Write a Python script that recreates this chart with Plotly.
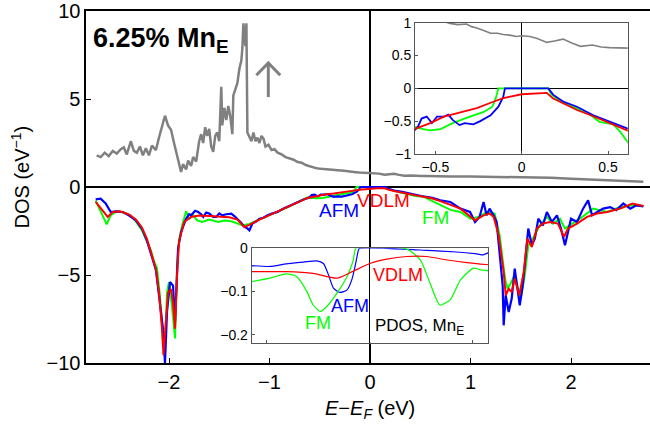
import plotly.graph_objects as go

# ---------------- data ----------------
# spin-up total DOS (gray)
up_x = [-2.72, -2.68, -2.64, -2.60, -2.56, -2.52, -2.48, -2.45, -2.42, -2.38, -2.35, -2.32, -2.29, -2.26,
        -2.23, -2.20, -2.17, -2.13, -2.10, -2.07, -2.04, -2.01, -1.98, -1.95, -1.92, -1.90, -1.88, -1.86,
        -1.83, -1.81, -1.78, -1.76, -1.73, -1.70, -1.68, -1.66, -1.64, -1.62, -1.60, -1.58, -1.56, -1.54,
        -1.52, -1.50, -1.48, -1.47, -1.45, -1.43, -1.41, -1.39, -1.37, -1.36, -1.34, -1.32, -1.30, -1.28,
        -1.27, -1.26, -1.24, -1.23, -1.22, -1.20, -1.18, -1.16, -1.14, -1.12, -1.10, -1.08, -1.06, -1.04,
        -1.01, -0.98, -0.95, -0.92, -0.88, -0.84, -0.80, -0.76, -0.72, -0.68, -0.64, -0.60, -0.57, -0.53,
        -0.49, -0.45, -0.415, -0.37, -0.32, -0.29, -0.26, -0.22, -0.18, -0.14, -0.107, -0.07, -0.03, 0.0,
        0.048, 0.09, 0.145, 0.19, 0.24, 0.29, 0.34, 0.41, 0.46, 0.51, 0.56, 0.62, 0.8, 1.0, 1.2, 1.4, 1.6,
        1.8, 2.0, 2.2, 2.4, 2.6, 2.72]
up_y = [1.80, 1.70, 1.95, 1.75, 2.05, 1.90, 2.15, 2.25, 1.85, 2.60, 2.05, 1.95, 2.30, 1.80,
        2.20, 1.80, 2.35, 2.10, 2.80, 3.40, 4.05, 3.50, 3.25, 2.50, 1.80, 1.20, 0.85, 1.30,
        1.00, 1.50, 1.20, 1.70, 1.45, 2.60, 3.00, 2.50, 3.40, 2.90, 3.30, 2.30, 2.00, 2.90,
        3.10, 2.60, 5.70, 3.50, 4.50, 3.80, 4.60, 4.00, 3.00, 5.20, 5.60, 5.90, 6.70, 7.20,
        7.90, 9.30, 8.00, 9.30, 3.10, 2.80, 2.60, 3.10, 2.60, 2.80, 2.50, 2.90, 2.75, 2.30,
        2.40, 2.10, 2.15, 1.95, 1.85, 1.70, 1.62, 1.55, 1.42, 1.38, 1.25, 1.18, 1.10, 1.06,
        1.03, 1.02, 0.99, 0.97, 0.98, 0.94, 0.92, 0.88, 0.84, 0.84, 0.82, 0.81, 0.79, 0.80,
        0.79, 0.76, 0.70, 0.72, 0.75, 0.69, 0.64, 0.66, 0.63, 0.62, 0.62, 0.61, 0.60, 0.60, 0.58, 0.58, 0.56,
        0.52, 0.47, 0.42, 0.37, 0.32, 0.30]

# spin-down total DOS, AFM (blue)
afm_x = [-2.73, -2.68, -2.63, -2.58, -2.53, -2.46, -2.40, -2.33, -2.27, -2.22, -2.17, -2.13, -2.10, -2.06,
         -2.04, -2.02, -1.99, -1.96, -1.94, -1.91, -1.88, -1.83, -1.80, -1.78, -1.74, -1.71, -1.68, -1.66,
         -1.63, -1.60, -1.56, -1.53, -1.50, -1.47, -1.43, -1.38, -1.35, -1.32, -1.28, -1.25, -1.22, -1.20,
         -1.17, -1.13, -1.10, -1.06, -1.02, -0.97, -0.92, -0.87, -0.83, -0.76, -0.70, -0.65, -0.62, -0.60,
         -0.58, -0.55, -0.52, -0.49, -0.45, -0.425, -0.40, -0.36, -0.33, -0.28, -0.24, -0.18, -0.135, -0.107,
         -0.097, 0.154, 0.183, 0.24, 0.32, 0.415, 0.51, 0.59, 0.62, 0.70, 0.80, 0.90, 0.995, 1.045, 1.09,
         1.13, 1.16, 1.19, 1.23, 1.26, 1.29, 1.32, 1.33, 1.35, 1.38, 1.41, 1.44, 1.47, 1.49, 1.52, 1.54,
         1.575, 1.61, 1.64, 1.675, 1.72, 1.76, 1.81, 1.86, 1.90, 1.94, 1.97, 2.00, 2.06, 2.12, 2.17, 2.21,
         2.26, 2.32, 2.39, 2.45, 2.52, 2.59, 2.65, 2.72]
afm_y = [-0.70, -0.66, -0.94, -1.42, -1.38, -1.42, -1.61, -1.89, -2.36, -3.03, -3.98, -4.73, -6.15, -8.05,
         -10.0, -7.10, -5.40, -5.60, -7.67, -3.50, -2.56, -1.80, -1.55, -1.61, -1.35, -1.42, -1.55, -1.70,
         -1.45, -1.51, -1.70, -1.70, -1.50, -1.61, -1.55, -1.51, -1.65, -1.80, -2.05, -2.27, -2.35, -2.46,
         -2.08, -1.95, -1.80, -1.75, -1.61, -1.50, -1.42, -1.25, -1.14, -0.94, -0.80, -0.68, -0.64, -0.58,
         -0.46, -0.43, -0.53, -0.43, -0.43, -0.40, -0.48, -0.56, -0.53, -0.55, -0.50, -0.41, -0.28, -0.13,
         0.0, 0.0, -0.10, -0.20, -0.28, -0.41, -0.51, -0.59, -0.62, -0.76, -0.85, -1.23, -1.42, -1.99, -1.70,
         -0.85, -1.61, -1.23, -1.61, -1.99, -3.69, -5.59, -7.86, -6.15, -7.10, -6.34, -4.64, -5.77, -6.72, -5.59, -4.26,
         -2.36, -3.31, -2.93, -1.80, -2.18, -1.42, -1.99, -1.61, -2.36, -3.31, -2.55, -1.80, -1.99, -1.23, -0.76, -1.61,
         -1.42, -1.23, -1.14, -1.32, -0.94, -1.23, -1.04, -1.10]

# spin-down total DOS, FM (green)
fm_x = [-2.73, -2.66, -2.62, -2.58, -2.52, -2.45, -2.38, -2.33, -2.27, -2.22, -2.18, -2.15, -2.12, -2.09,
        -2.06, -2.04, -2.02, -2.00, -1.97, -1.94, -1.92, -1.90, -1.87, -1.83, -1.80, -1.76, -1.72, -1.67,
        -1.60, -1.51, -1.45, -1.38, -1.27, -1.20, -1.10, -1.00, -0.90, -0.80, -0.70, -0.62, -0.57, -0.53,
        -0.47, -0.40, -0.30, -0.22, -0.17, -0.15, -0.135, 0.154, 0.17, 0.22, 0.32, 0.40, 0.45, 0.53, 0.57,
        0.62, 0.70, 0.80, 0.90, 1.00, 1.08, 1.16, 1.24, 1.29, 1.33, 1.35, 1.37, 1.39, 1.44, 1.50, 1.54,
        1.575, 1.62, 1.69, 1.76, 1.82, 1.89, 1.94, 1.99, 2.09, 2.22, 2.36, 2.49, 2.62, 2.72]
fm_y = [-0.77, -1.60, -2.12, -1.61, -1.38, -1.45, -1.62, -1.95, -2.45, -3.10, -3.60, -4.20, -4.60, -6.20,
        -8.80, -9.00, -6.00, -5.40, -6.80, -8.60, -4.50, -3.00, -2.20, -1.38, -1.80, -1.60, -1.90, -1.99,
        -1.85, -1.99, -1.90, -1.95, -2.17, -2.10, -1.85, -1.60, -1.35, -1.10, -0.80, -0.59, -0.62, -0.64,
        -0.62, -0.53, -0.43, -0.36, -0.28, -0.15, 0.0, 0.0, -0.09, -0.19, -0.31, -0.41, -0.51, -0.55, -0.66,
        -0.84, -1.04, -1.30, -1.42, -1.80, -1.70, -1.42, -1.51, -2.74, -4.60, -5.40, -5.78, -5.59, -5.00, -6.34, -5.00,
        -3.31, -2.93, -2.18, -1.70, -2.08, -1.80, -2.36, -2.17, -1.80, -1.23, -1.42, -1.14, -1.04, -1.08]

# spin-down total DOS, VDLM (red)
vdlm_x = [-2.73, -2.66, -2.61, -2.56, -2.49, -2.40, -2.33, -2.27, -2.22, -2.17, -2.13, -2.10, -2.07, -2.055,
          -2.03, -2.01, -1.98, -1.96, -1.94, -1.92, -1.90, -1.85, -1.78, -1.70, -1.60, -1.50, -1.40, -1.32,
          -1.25, -1.20, -1.10, -1.00, -0.90, -0.80, -0.70, -0.62, -0.53, -0.45, -0.36, -0.26, -0.18, -0.107,
          0.0, 0.07, 0.145, 0.18, 0.25, 0.32, 0.40, 0.47, 0.55, 0.62, 0.70, 0.90, 1.045, 1.13, 1.19, 1.23,
          1.28, 1.33, 1.35, 1.38, 1.41, 1.44, 1.485, 1.53, 1.565, 1.61, 1.66, 1.72, 1.79, 1.87, 1.93, 1.97,
          2.06, 2.16, 2.26, 2.36, 2.49, 2.61, 2.72]
vdlm_y = [-0.85, -1.32, -1.70, -1.42, -1.38, -1.55, -1.85, -2.30, -2.95, -3.90, -4.70, -6.00, -8.00, -9.56,
          -7.50, -6.00, -5.80, -6.60, -8.05, -5.00, -3.10, -1.99, -1.70, -1.62, -1.65, -1.68, -1.72, -1.85,
          -2.27, -2.15, -1.85, -1.60, -1.35, -1.10, -0.85, -0.62, -0.53, -0.43, -0.37, -0.30, -0.22, -0.15,
          -0.09, -0.075, -0.07, -0.15, -0.24, -0.33, -0.41, -0.49, -0.57, -0.65, -0.80, -1.23, -1.89, -1.61, -1.51, -1.70,
          -2.74, -4.83, -6.15, -5.78, -5.97, -5.21, -6.15, -4.83, -2.93, -3.41, -2.36, -2.08, -1.99, -2.08, -2.83, -2.36,
          -2.08, -1.70, -1.51, -1.42, -1.23, -0.94, -1.08]

# Mn_E partial DOS (spin down)
pdos_afm_x = [-1.146, -0.97, -0.81, -0.645, -0.515, -0.45, -0.40, -0.353, -0.29, -0.22, -0.175, -0.143,
              -0.11, -0.10, 0.165, 0.49, 0.81, 1.04, 1.10, 1.15]
pdos_afm_y = [-0.040, -0.042, -0.036, -0.032, -0.029, -0.035, -0.062, -0.092, -0.102, -0.096, -0.073, -0.042,
              -0.004, 0.0, 0.0, -0.004, -0.008, -0.013, -0.015, -0.010]
pdos_fm_x = [-1.146, -0.97, -0.81, -0.71, -0.61, -0.55, -0.48, -0.42, -0.32, -0.22, -0.16, -0.133,
             0.36, 0.49, 0.585, 0.68, 0.78, 0.88, 1.005, 1.08, 1.15]
pdos_fm_y = [-0.077, -0.069, -0.059, -0.065, -0.100, -0.131, -0.146, -0.135, -0.104, -0.065, -0.027, 0.0,
             -0.002, -0.027, -0.081, -0.131, -0.119, -0.073, -0.046, -0.050, -0.052]
pdos_vdlm_x = [-1.146, -0.81, -0.55, -0.32, -0.17, 0.0, 0.165, 0.36, 0.55, 0.75, 0.94, 1.15]
pdos_vdlm_y = [-0.054, -0.054, -0.058, -0.069, -0.054, -0.035, -0.025, -0.019, -0.019, -0.027, -0.033, -0.038]

main_ticks = [-2, -1, 0, 1, 2]
main_ticktext = ["\u22122", "\u22121", "0", "1", "2"]
main_yticks = [-10, -5, 0, 5, 10]
main_yticktext = ["\u221210", "\u22125", "0", "5", "10"]
zoom_xticks = [-0.5, 0, 0.5]
zoom_xticktext = ["\u22120.5", "0", "0.5"]
zoom_yticks = [-1, -0.5, 0, 0.5, 1]
zoom_yticktext = ["\u22121", "\u22120.5", "0", "0.5", "1"]
pdos_yticks = [-0.2, -0.1, 0]
pdos_yticktext = ["\u22120.2", "\u22120.1", "0"]

GRAY = "#808080"
BLUE = "#0000FF"
GREEN = "#00FF00"
RED = "#FF0000"
FONT = "Liberation Sans, Arial, sans-serif"

fig = go.Figure()
# main
fig.add_trace(go.Scatter(x=up_x, y=up_y, mode="lines", line=dict(color=GRAY, width=2.5), xaxis="x", yaxis="y"))
fig.add_trace(go.Scatter(x=fm_x, y=fm_y, mode="lines", line=dict(color=GREEN, width=2), xaxis="x", yaxis="y"))
fig.add_trace(go.Scatter(x=afm_x, y=afm_y, mode="lines", line=dict(color=BLUE, width=2.2), xaxis="x", yaxis="y"))
fig.add_trace(go.Scatter(x=vdlm_x, y=vdlm_y, mode="lines", line=dict(color=RED, width=2), xaxis="x", yaxis="y"))
# zoom inset (top right)
fig.add_trace(go.Scatter(x=up_x, y=up_y, mode="lines", line=dict(color=GRAY, width=1.6), xaxis="x2", yaxis="y2"))
fig.add_trace(go.Scatter(x=fm_x, y=fm_y, mode="lines", line=dict(color=GREEN, width=1.8), xaxis="x2", yaxis="y2"))
fig.add_trace(go.Scatter(x=afm_x, y=afm_y, mode="lines", line=dict(color=BLUE, width=1.8), xaxis="x2", yaxis="y2"))
fig.add_trace(go.Scatter(x=vdlm_x, y=vdlm_y, mode="lines", line=dict(color=RED, width=1.8), xaxis="x2", yaxis="y2"))
# PDOS inset
fig.add_trace(go.Scatter(x=pdos_afm_x, y=pdos_afm_y, mode="lines", line=dict(color=BLUE, width=1.2, shape="spline", smoothing=0.6), xaxis="x3", yaxis="y3"))
fig.add_trace(go.Scatter(x=pdos_fm_x, y=pdos_fm_y, mode="lines", line=dict(color=GREEN, width=1.2, shape="spline", smoothing=0.6), xaxis="x3", yaxis="y3"))
fig.add_trace(go.Scatter(x=pdos_vdlm_x, y=pdos_vdlm_y, mode="lines", line=dict(color=RED, width=1.2, shape="spline", smoothing=0.6), xaxis="x3", yaxis="y3"))

tickfont_main = dict(family=FONT, size=20, color="black")
tickfont_small = dict(family=FONT, size=14, color="black")

fig.update_layout(
    template=None,
    width=650, height=429,
    margin=dict(l=86, r=0, t=11, b=66, autoexpand=False),
    paper_bgcolor="white", plot_bgcolor="white",
    showlegend=False,
    font=dict(family=FONT, color="black"),
    xaxis=dict(domain=[0, 1], range=[-2.826, 2.786], tickvals=main_ticks, ticktext=main_ticktext,
               ticks="inside", ticklen=5, tickcolor="black", showline=True, linecolor="black", linewidth=1.6,
               mirror=True, showgrid=False, zeroline=True, zerolinecolor="black", zerolinewidth=1.3,
               tickfont=tickfont_main, anchor="y", automargin=False),
    yaxis=dict(domain=[0, 1], range=[-10, 10], tickvals=main_yticks, ticktext=main_yticktext,
               ticks="inside", ticklen=5, tickcolor="black", showline=True, linecolor="black", linewidth=1.6,
               mirror=False, showgrid=False, zeroline=True, zerolinecolor="black", zerolinewidth=1.8,
               tickfont=tickfont_main, anchor="x", automargin=False),
    xaxis2=dict(domain=[0.5833, 0.9605], range=[-0.618, 0.614], tickvals=zoom_xticks, ticktext=zoom_xticktext,
                ticks="inside", ticklen=3, tickcolor="#555", showline=True, linecolor="#555", linewidth=1,
                mirror=True, showgrid=False, zeroline=True, zerolinecolor="black", zerolinewidth=1,
                tickfont=tickfont_small, anchor="y2", automargin=False),
    yaxis2=dict(domain=[0.5938, 0.9668], range=[-1, 1], tickvals=zoom_yticks, ticktext=zoom_yticktext,
                ticks="inside", ticklen=3, tickcolor="#555", showline=True, linecolor="#555", linewidth=1,
                mirror=True, showgrid=False, zeroline=True, zerolinecolor="black", zerolinewidth=1,
                tickfont=tickfont_small, anchor="x2", automargin=False),
    xaxis3=dict(domain=[0.2938, 0.7133], range=[-1.146, 1.15], tickvals=[-1, 1], showticklabels=False,
                ticks="inside", ticklen=3, tickcolor="#555", showline=True, linecolor="#555", linewidth=1,
                mirror=True, showgrid=False, zeroline=True, zerolinecolor="black", zerolinewidth=1.3,
                anchor="y3", automargin=False),
    yaxis3=dict(domain=[0.0577, 0.3259], range=[-0.218, 0], tickvals=pdos_yticks, ticktext=pdos_yticktext,
                ticks="inside", ticklen=3, tickcolor="#555", showline=True, linecolor="#555", linewidth=1,
                mirror=True, showgrid=False, zeroline=False,
                tickfont=tickfont_small, anchor="x3", automargin=False),
)

ann = []
def label(text, x, y, color, size, xanchor="center", yanchor="middle", ref=("x", "y"), angle=0):
    ann.append(dict(text=text, x=x, y=y, xref=ref[0], yref=ref[1], showarrow=False,
                    font=dict(family=FONT, size=size, color=color), xanchor=xanchor, yanchor=yanchor,
                    textangle=angle))

label("<b>6.25% Mn<sub>E</sub></b>", -2.779, 8.35, "black", 27, xanchor="left")
label("AFM", -0.308, -1.35, BLUE, 19)
label("VDLM", 0.139, -0.78, RED, 19)
label("FM", 0.647, -1.72, GREEN, 19)
label("VDLM", 0.274, -4.99, RED, 18)
label("AFM", -0.199, -6.75, BLUE, 18)
label("FM", -0.522, -7.72, GREEN, 18)
label("PDOS, Mn<sub>E</sub>", 0.03, -7.95, "black", 17, xanchor="left")
label("DOS (eV<sup>\u22121</sup>)", -0.117, 0.527, "black", 20, ref=("paper", "paper"), angle=-90)
label("<i>E</i>\u2212<i>E</i><sub><i>F</i></sub> (eV)", 0.5035, -0.1335, "black", 20, ref=("paper", "paper"))
fig.update_layout(annotations=ann)

# up-spin arrow
fig.add_shape(type="line", x0=-1.012, y0=5.11, x1=-1.012, y1=7.0, xref="x", yref="y",
              line=dict(color=GRAY, width=3))
fig.add_shape(type="path", path="M -1.131 6.35 L -1.012 7.05 L -0.893 6.35", xref="x", yref="y",
              line=dict(color=GRAY, width=3))

# remove the browser's default 8px body margin so the figure sits at the page origin
fig.write_html("out.html", config={"displayModeBar": False, "staticPlot": True},
               post_script="document.body.style.margin='0';")
